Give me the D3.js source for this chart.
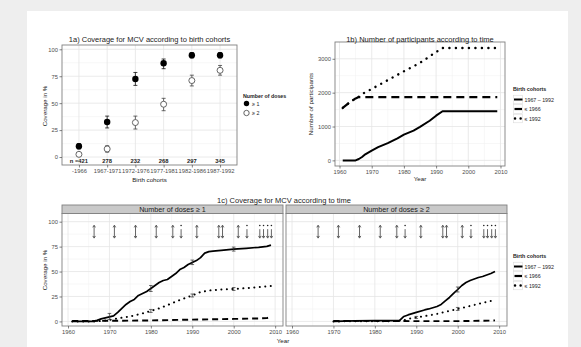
<!DOCTYPE html>
<html>
<head>
<meta charset="utf-8">
<script src="https://cdn.jsdelivr.net/npm/d3@7"></script>
<style>
body { margin: 0; background: #eeeeee; }
svg { display: block; font-family: "Liberation Sans", Arial, sans-serif; }
</style>
</head>
<body>
<svg id="chart" width="581" height="347"></svg>
<script>
// ---- 1a data: coverage by birth cohort
const cohorts = ["-1966", "1967-1971", "1972-1976", "1977-1981", "1982-1986", "1987-1992"];
const cohortN = ["421", "278", "232", "268", "297", "345"];
const dose1 = [10, 32.5, 72.5, 87, 94.5, 94.5];
const dose1Lo = [7.5, 27, 66.5, 82, 92, 92];
const dose1Hi = [12.5, 38, 78.5, 91, 97, 97];
const dose2 = [2.5, 7.5, 32, 49, 71, 80.5];
const dose2Lo = [1, 4.5, 26, 43, 66, 76];
const dose2Hi = [4, 10.5, 38, 54.5, 76, 85];

// ---- 1b data: number of participants
const partYearsSolid = [1961, 1965, 1966, 1967, 1968, 1970, 1972, 1975, 1978, 1980, 1983, 1985, 1988, 1990, 1992, 2009];
const partSolid = [0, 0, 40, 100, 180, 290, 390, 510, 650, 760, 880, 990, 1170, 1320, 1450, 1450];
const partYearsDashed = [1961, 1963, 1965, 1966, 2009];
const partDashed = [1550, 1700, 1830, 1870, 1870];
const partYearsDotted = [1961, 1963, 1965, 1966, 1967, 1970, 1975, 1980, 1985, 1990, 1992, 2009];
const partDotted = [1550, 1700, 1830, 1880, 1960, 2110, 2370, 2630, 2880, 3200, 3320, 3320];

// ---- 1c data: coverage over time, panel >=1
const p1YearsSolid = [1961, 1966, 1967, 1968, 1970, 1971, 1972, 1973, 1974, 1975, 1976, 1977, 1978, 1979, 1980, 1981, 1982, 1983, 1984, 1985, 1986, 1987, 1988, 1989, 1990, 1991, 1992, 1993, 1994, 1995, 1997, 2000, 2003, 2006, 2008, 2009];
const p1Solid = [0, 0, 1, 2.5, 4.5, 5.5, 9, 13, 17, 20, 22, 26, 28, 30, 33, 36, 39, 41, 42, 45, 48, 52, 54, 57, 59, 61, 64, 68.5, 70, 70.5, 71.3, 72.5, 73.3, 74.3, 75.2, 76.5];
const p1YearsDotted = [1961, 1967, 1968, 1970, 1972, 1975, 1978, 1980, 1982, 1985, 1987, 1990, 1992, 1994, 1997, 2000, 2005, 2009];
const p1Dotted = [0, 0, 0.5, 1.5, 3, 5, 8, 10.5, 13, 18, 21.5, 26, 29.5, 31, 32, 32.5, 34, 35.5];
const p1YearsDashed = [1961, 1970, 1980, 1990, 2000, 2006, 2008, 2009];
const p1Dashed = [0.5, 0.6, 1, 1.8, 2.5, 3, 3.3, 4.5];

// panel >=2
const p2YearsSolid = [1970, 1975, 1980, 1985, 1986, 1987, 1988, 1990, 1992, 1993, 1995, 1996, 1997, 1998, 1999, 2000, 2001, 2002, 2003, 2004, 2005, 2006, 2007, 2008, 2009];
const p2Solid = [0, 0.5, 0.8, 0.8, 1, 5, 6.5, 9, 11.5, 12.5, 15, 17, 20.5, 24, 28, 32, 36, 39, 41, 42.5, 44, 45, 46.5, 48, 50];
const p2YearsDotted = [1970, 1985, 1987, 1988, 1990, 1993, 1995, 1997, 2000, 2003, 2006, 2009];
const p2Dotted = [0, 0.3, 1, 2.5, 4, 6, 7.5, 9.5, 12.5, 15.5, 18.5, 21.5];
const p2YearsDashed = [1970, 1980, 1990, 2000, 2008, 2009];
const p2Dashed = [0.5, 0.5, 0.3, 0.3, 0.8, 1];

// error bars [year, value, low, high]
const p1Errors = [[1970, 5, 2, 8], [1980, 33, 30, 36], [1990, 59, 57, 61.5], [2000, 72.5, 70.5, 74.5],
                  [1980, 10.5, 9, 12], [1990, 26, 24.5, 27.5], [2000, 32.5, 31, 34]];
const p2Errors = [[2000, 32, 29.5, 34.5], [2000, 12.5, 11, 14], [1990, 4, 3, 5]];

// survey arrows
const arrowYears = [1966.3, 1971.2, 1976.3, 1981.3, 1985.3, 1987.3, 1991.1, 1996.4, 1997.3, 2001.1, 2003.2, 2006.3, 2007.2, 2008.2, 2009.1];
const arrowKinds = ["both", "both", "both", "both", "both", "down", "both", "both", "both", "both", "down", "down", "down", "down", "down"];

const seriesLabels = ["1967 \u2013 1992", "\u2264 1966", "\u2264 1992"];
const doseLabels = ["\u2265 1", "\u2265 2"];

// ---------------------------------------------------------------
const svg = d3.select("#chart");
const TXT = "#4d4d4d";
const GRID = "#e4e4e4", GRIDMIN = "#f1f1f1", BORDER = "#808080";

svg.append("rect").attr("x", 27).attr("y", 11).attr("width", 541).attr("height", 336).attr("fill", "#fff");

function grid(g, b, xs, ys, xMaj, xMin, yMaj, yMin) {
  g.append("rect").attr("x", b.x0).attr("y", b.y0).attr("width", b.x1 - b.x0).attr("height", b.y1 - b.y0).attr("fill", "#fff");
  const h = (vals, col, w) => g.selectAll(null).data(vals).join("line")
    .attr("x1", b.x0).attr("x2", b.x1).attr("y1", d => ys(d)).attr("y2", d => ys(d))
    .attr("stroke", col).attr("stroke-width", w);
  const v = (vals, col, w) => g.selectAll(null).data(vals).join("line")
    .attr("y1", b.y0).attr("y2", b.y1).attr("x1", d => xs(d)).attr("x2", d => xs(d))
    .attr("stroke", col).attr("stroke-width", w);
  h(yMin, GRIDMIN, 0.6); v(xMin, GRIDMIN, 0.6);
  h(yMaj, GRID, 0.8); v(xMaj, GRID, 0.8);
}

function border(g, b) {
  g.append("rect").attr("x", b.x0).attr("y", b.y0).attr("width", b.x1 - b.x0).attr("height", b.y1 - b.y0)
    .attr("fill", "none").attr("stroke", BORDER).attr("stroke-width", 0.9);
}

function styleAxis(a) {
  a.select(".domain").remove();
  a.selectAll(".tick line").attr("stroke", TXT).attr("stroke-width", 0.7);
  a.selectAll(".tick text").attr("fill", TXT).attr("font-size", 5.8).attr("font-family", "Liberation Sans, Arial, sans-serif");
}

function text(x, y, s, size, opts = {}) {
  const t = svg.append("text").attr("x", x).attr("y", y).attr("font-size", size)
    .attr("fill", opts.fill || "#222").attr("text-anchor", opts.anchor || "middle").text(s);
  if (opts.bold) t.attr("font-weight", "bold");
  if (opts.rotate) t.attr("transform", `rotate(-90,${x},${y})`);
  return t;
}

// ================= 1a =================
const bA = { x0: 62, x1: 237, y0: 45, y1: 165 };
const xA = d3.scalePoint().domain(cohorts).range([bA.x0, bA.x1]).padding(0.6);
const yA = d3.scaleLinear().domain([-7.4, 104]).range([bA.y1, bA.y0]);
const gA = svg.append("g");
grid(gA, bA, xA, yA, cohorts, [], [0, 25, 50, 75, 100], [12.5, 37.5, 62.5, 87.5]);

function errBars(g, xs, ys, cats, lo, hi, col) {
  g.selectAll(null).data(cats).join("path")
    .attr("d", (c, i) => {
      const x = xs(c), a = ys(lo[i]), b = ys(hi[i]);
      return `M${x - 2},${a}H${x + 2}M${x},${a}V${b}M${x - 2},${b}H${x + 2}`;
    })
    .attr("stroke", col).attr("stroke-width", 0.8).attr("fill", "none");
}
errBars(gA, xA, yA, cohorts, dose2Lo, dose2Hi, "#444");
errBars(gA, xA, yA, cohorts, dose1Lo, dose1Hi, "#111");
gA.selectAll(null).data(cohorts).join("circle")
  .attr("cx", d => xA(d)).attr("cy", (d, i) => yA(dose2[i])).attr("r", 3)
  .attr("fill", "#fff").attr("stroke", "#555").attr("stroke-width", 0.9);
gA.selectAll(null).data(cohorts).join("circle")
  .attr("cx", d => xA(d)).attr("cy", (d, i) => yA(dose1[i])).attr("r", 3.2)
  .attr("fill", "#000");
gA.selectAll(null).data(cohorts).join("text")
  .attr("x", d => xA(d)).attr("y", yA(-3.7) + 2).attr("text-anchor", "middle")
  .attr("font-size", 5.8).attr("font-weight", "bold").attr("fill", "#222")
  .text((d, i) => (i === 0 ? "n =" : "") + cohortN[i]);
border(gA, bA);

const axAx = svg.append("g").attr("transform", `translate(0,${bA.y1})`)
  .call(d3.axisBottom(xA).tickSize(2.5).tickPadding(1.5));
styleAxis(axAx);
const axAy = svg.append("g").attr("transform", `translate(${bA.x0},0)`)
  .call(d3.axisLeft(yA).tickValues([0, 25, 50, 75, 100]).tickSize(2.5).tickPadding(1.5));
styleAxis(axAy);

text(149.5, 41.5, "1a) Coverage for MCV according to birth cohorts", 7.5);
text(149.5, 181.5, "Birth cohorts", 6.2);
text(47, 106, "Coverage in %", 6.2, { rotate: true });

// legend 1a
text(243, 97.5, "Number of doses", 5.3, { bold: true, anchor: "start" });
const legA = svg.append("g");
legA.selectAll(null).data(doseLabels).join("circle")
  .attr("cx", 246.5).attr("cy", (d, i) => 103.5 + i * 9.5).attr("r", 2.7)
  .attr("fill", (d, i) => i === 0 ? "#000" : "#fff")
  .attr("stroke", (d, i) => i === 0 ? "none" : "#555").attr("stroke-width", 0.9);
legA.selectAll(null).data(doseLabels).join("text")
  .attr("x", 252).attr("y", (d, i) => 105.5 + i * 9.5).attr("font-size", 5.3).attr("fill", "#222")
  .text(d => d);

// ================= 1b =================
const bB = { x0: 335, x1: 505, y0: 42, y1: 166 };
const xB = d3.scaleLinear().domain([1958.6, 2011.4]).range([bB.x0, bB.x1]);
const yB = d3.scaleLinear().domain([-166, 3496]).range([bB.y1, bB.y0]);
const gB = svg.append("g");
grid(gB, bB, xB, yB, [1960, 1970, 1980, 1990, 2000, 2010], [1965, 1975, 1985, 1995, 2005],
  [0, 1000, 2000, 3000], [500, 1500, 2500]);

const lineB = d3.line().x(d => xB(d[0])).y(d => yB(d[1]));
const styles = [
  { dash: null, width: 2, cap: "butt" },
  { dash: "8,5", width: 2.2, cap: "butt" },
  { dash: "0.1,6.4", width: 2.4, cap: "round" }
];
function drawLine(g, gen, xsArr, vals, st) {
  const p = g.append("path").datum(d3.zip(xsArr, vals)).attr("d", gen)
    .attr("fill", "none").attr("stroke", "#000").attr("stroke-width", st.width)
    .attr("stroke-linecap", st.cap).attr("stroke-linejoin", "round");
  if (st.dash) p.attr("stroke-dasharray", st.dash);
  return p;
}
drawLine(gB, lineB, partYearsDashed, partDashed, styles[1]);
drawLine(gB, lineB, partYearsSolid, partSolid, styles[0]);
drawLine(gB, lineB, partYearsDotted, partDotted, styles[2]);
border(gB, bB);

styleAxis(svg.append("g").attr("transform", `translate(0,${bB.y1})`)
  .call(d3.axisBottom(xB).tickValues([1960, 1970, 1980, 1990, 2000, 2010]).tickFormat(d3.format("d")).tickSize(2.5).tickPadding(1.5)));
styleAxis(svg.append("g").attr("transform", `translate(${bB.x0},0)`)
  .call(d3.axisLeft(yB).tickValues([0, 1000, 2000, 3000]).tickFormat(d3.format("d")).tickSize(2.5).tickPadding(1.5)));

text(420, 41.5, "1b) Number of participants according to time", 7.5);
text(420, 181, "Year", 6.2);
text(313, 104, "Number of participants", 6.2, { rotate: true });

function lineLegend(x, y) {
  text(x, y, "Birth cohorts", 5.3, { bold: true, anchor: "start" });
  const g = svg.append("g");
  const order = [0, 1, 2];
  order.forEach((k, i) => {
    const cy = y + 8.5 + i * 9.5;
    g.append("rect").attr("x", x + 0.5).attr("y", cy - 4.3).attr("width", 9).attr("height", 8.6)
      .attr("fill", "#fff").attr("stroke", "#d6d6d6").attr("stroke-width", 0.5);
    const st = styles[k];
    const l = g.append("line").attr("x1", x + 1).attr("x2", x + 9.5).attr("y1", cy).attr("y2", cy)
      .attr("stroke", "#000").attr("stroke-width", st.width).attr("stroke-linecap", st.cap);
    if (k === 1) l.attr("x1", x + 1.5).attr("x2", x + 9);
    if (k === 2) l.attr("x1", x + 2).attr("stroke-dasharray", "0.1,5.5");
    g.append("text").attr("x", x + 11.5).attr("y", cy + 2).attr("font-size", 5.3).attr("fill", "#222")
      .text(seriesLabels[k]);
  });
}
lineLegend(513, 91);

// ================= 1c =================
const strip = { y0: 205, y1: 213.5 };
const panels = [
  { b: { x0: 62, x1: 283, y0: 213.5, y1: 326 }, title: "Number of doses \u2265 1",
    solid: [p1YearsSolid, p1Solid], dotted: [p1YearsDotted, p1Dotted], dashed: [p1YearsDashed, p1Dashed], errs: p1Errors },
  { b: { x0: 286, x1: 507, y0: 213.5, y1: 326 }, title: "Number of doses \u2265 2",
    solid: [p2YearsSolid, p2Solid], dotted: [p2YearsDotted, p2Dotted], dashed: [p2YearsDashed, p2Dashed], errs: p2Errors }
];
const yC = d3.scaleLinear().domain([-4.6, 108.2]).range([326, 213.5]);
const cStyles = [
  { dash: null, width: 1.7, cap: "butt" },
  { dash: "6,4", width: 1.9, cap: "butt" },
  { dash: "0.1,5.4", width: 2, cap: "round" }
];

panels.forEach((p, pi) => {
  const b = p.b;
  const xs = d3.scaleLinear().domain([1958.55, 2011.9]).range([b.x0, b.x1]);
  const g = svg.append("g");
  grid(g, b, xs, yC, [1960, 1970, 1980, 1990, 2000, 2010], [1965, 1975, 1985, 1995, 2005],
    [0, 25, 50, 75, 100], [12.5, 37.5, 62.5, 87.5]);
  const gen = d3.line().x(d => xs(d[0])).y(d => yC(d[1]));
  drawLine(g, gen, p.dashed[0], p.dashed[1], cStyles[1]);
  drawLine(g, gen, p.dotted[0], p.dotted[1], cStyles[2]);
  drawLine(g, gen, p.solid[0], p.solid[1], cStyles[0]);
  g.selectAll(null).data(p.errs).join("path")
    .attr("d", d => {
      const x = xs(d[0]), a = yC(d[2]), c = yC(d[3]);
      return `M${x - 1.8},${a}H${x + 1.8}M${x},${a}V${c}M${x - 1.8},${c}H${x + 1.8}`;
    })
    .attr("stroke", "#333").attr("stroke-width", 0.7).attr("fill", "none");

  // arrows
  const top = yC(96.5), bot = yC(83.5);
  arrowYears.forEach((yr, i) => {
    const x = xs(yr);
    const kind = arrowKinds[i];
    const ga = g.append("g").attr("stroke", "#222").attr("fill", "#222").attr("stroke-width", 0.7);
    if (kind === "both") {
      ga.append("line").attr("x1", x).attr("x2", x).attr("y1", top + 1).attr("y2", bot - 1);
      ga.append("path").attr("d", `M${x - 1.3},${top + 2.2}L${x},${top}L${x + 1.3},${top + 2.2}`).attr("fill", "none");
    } else {
      ga.append("circle").attr("cx", x).attr("cy", top + 0.3).attr("r", 0.8).attr("stroke", "none");
      ga.append("line").attr("x1", x).attr("x2", x).attr("y1", top + 4).attr("y2", bot - 1);
    }
    ga.append("path").attr("d", `M${x - 1.3},${bot - 2.2}L${x},${bot}L${x + 1.3},${bot - 2.2}`).attr("fill", "none");
  });
  border(g, b);

  // strip
  svg.append("rect").attr("x", b.x0).attr("y", strip.y0).attr("width", b.x1 - b.x0).attr("height", strip.y1 - strip.y0)
    .attr("fill", "#c9c9c9").attr("stroke", BORDER).attr("stroke-width", 0.9);
  text((b.x0 + b.x1) / 2, strip.y1 - 1.8, p.title, 7.2, { fill: "#1a1a1a" });

  styleAxis(svg.append("g").attr("transform", `translate(0,${b.y1})`)
    .call(d3.axisBottom(xs).tickValues([1960, 1970, 1980, 1990, 2000, 2010]).tickFormat(d3.format("d")).tickSize(2.5).tickPadding(1.5)));
  if (pi === 0) {
    styleAxis(svg.append("g").attr("transform", `translate(${b.x0},0)`)
      .call(d3.axisLeft(yC).tickValues([0, 25, 50, 75, 100]).tickSize(2.5).tickPadding(1.5)));
  }
});

text(284, 202.5, "1c) Coverage for MCV according to time", 7.5);
text(283, 342.5, "Year", 6.2);
text(47, 270, "Coverage in %", 6.2, { rotate: true });
lineLegend(513, 258);
</script>
</body>
</html>
